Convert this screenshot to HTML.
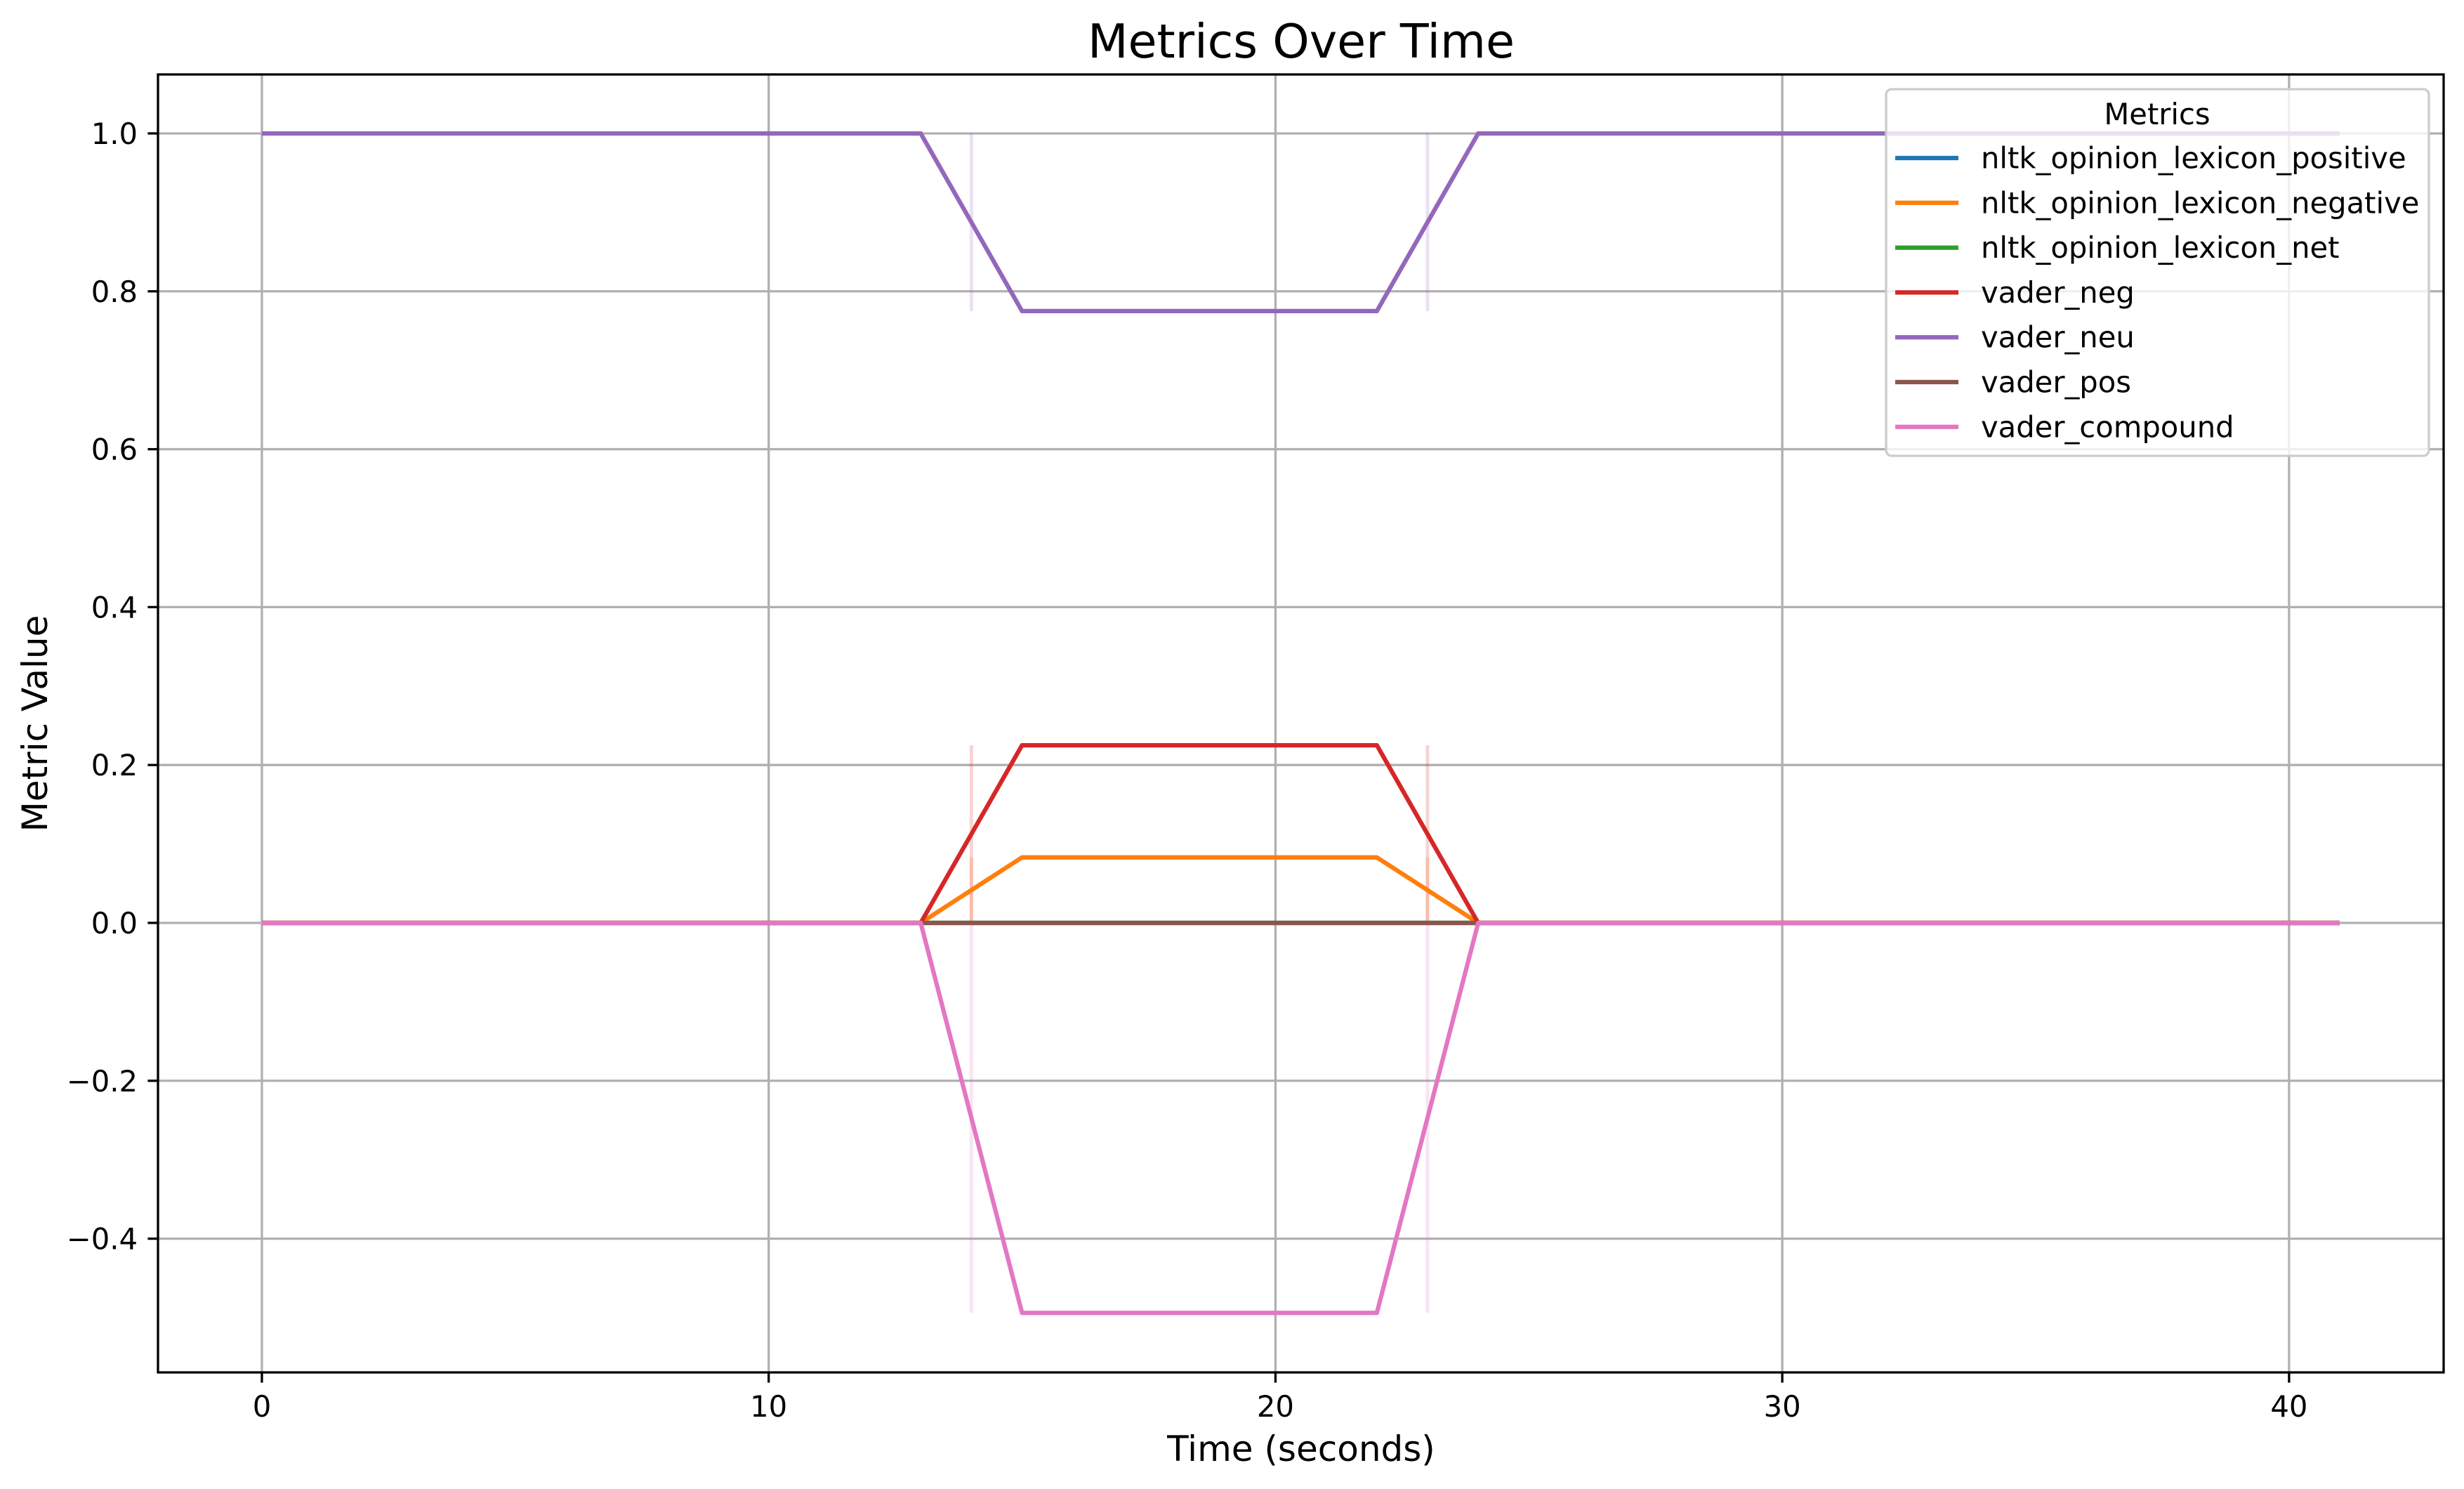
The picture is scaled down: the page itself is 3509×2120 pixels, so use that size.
<!DOCTYPE html>
<html><head><meta charset="utf-8"><style>
html,body{margin:0;padding:0;background:#fff;}
svg{display:block;font-family:"DejaVu Sans","Liberation Sans",sans-serif;}
</style></head><body>
<svg id="chart" width="3509" height="2120" viewBox="0 0 3509 2120" xmlns="http://www.w3.org/2000/svg">
<rect x="0" y="0" width="3509" height="2120" fill="#fff"/>
<g id="grid"></g>
<g id="bands"></g>
<g id="series"></g>
<g id="axes"></g>
<text x="1853" y="82" font-size="66.7" text-anchor="middle">Metrics Over Time</text>
<text x="1853" y="2080" font-size="50" text-anchor="middle">Time (seconds)</text>
<text x="0" y="0" font-size="50" text-anchor="middle" transform="translate(67,1030) rotate(-90)">Metric Value</text>
<g id="legend"></g>
</svg>
<script>
const times = [0, 13, 15, 22, 24, 41];
const seriesNames = ["nltk_opinion_lexicon_positive","nltk_opinion_lexicon_negative","nltk_opinion_lexicon_net","vader_neg","vader_neu","vader_pos","vader_compound"];
const seriesColors = ["#1f77b4","#ff7f0e","#2ca02c","#d62728","#9467bd","#8c564b","#e377c2"];
const posValues = [0, 0, 0, 0, 0, 0];
const negValues = [0, 0, 0.083, 0.083, 0, 0];
const netValues = [0, 0, 0, 0, 0, 0];
const vaderNegValues = [0, 0, 0.225, 0.225, 0, 0];
const vaderNeuValues = [1, 1, 0.775, 0.775, 1, 1];
const vaderPosValues = [0, 0, 0, 0, 0, 0];
const vaderCompoundValues = [0, 0, -0.494, -0.494, 0, 0];
const bandTimes = [14, 23];
const xTicks = [0, 10, 20, 30, 40];
const yTicks = [-0.4, -0.2, 0.0, 0.2, 0.4, 0.6, 0.8, 1.0];
const yTickLabels = ["\u22120.4","\u22120.2","0.0","0.2","0.4","0.6","0.8","1.0"];

const allSeries = [posValues, negValues, netValues, vaderNegValues, vaderNeuValues, vaderPosValues, vaderCompoundValues];
const L = 225, R = 3480, T = 106, B = 1954;
const xMin = -2.05, xMax = 43.05, yMin = -0.5694, yMax = 1.0747;
function xs(v){ return L + (v - xMin) / (xMax - xMin) * (R - L); }
function ys(v){ return B - (v - yMin) / (yMax - yMin) * (B - T); }
const NS = "http://www.w3.org/2000/svg";
function mk(tag, attrs, parent){ const e = document.createElementNS(NS, tag); for (const k in attrs) e.setAttribute(k, attrs[k]); parent.appendChild(e); return e; }

const grid = document.getElementById('grid');
const axes = document.getElementById('axes');
xTicks.forEach(t => {
  const g = mk('line', {x1: xs(t), x2: xs(t), y1: T, y2: B, stroke: '#b0b0b0', 'stroke-width': 3.3}, grid);
  
  
  const tk = mk('line', {x1: xs(t), x2: xs(t), y1: B, y2: B + 14.6, stroke: '#000', 'stroke-width': 3.3}, axes);
  
  
  const lb = mk('text', {x: xs(t), y: 2017, 'font-size': 41.7, 'text-anchor': 'middle'}, axes);
  lb.textContent = String(t);
  
  
});
yTicks.forEach((t, i) => {
  const g = mk('line', {x1: L, x2: R, y1: ys(t), y2: ys(t), stroke: '#b0b0b0', 'stroke-width': 3.3}, grid);
  
  
  const tk = mk('line', {x1: L - 14.6, x2: L, y1: ys(t), y2: ys(t), stroke: '#000', 'stroke-width': 3.3}, axes);
  
  
  const lb = mk('text', {x: 196, y: ys(t) + 15, 'font-size': 41.7, 'text-anchor': 'end'}, axes);
  lb.textContent = yTickLabels[i];
  
  
});
const frame = mk('rect', {x: L, y: T, width: R - L, height: B - T, fill: 'none', stroke: '#000', 'stroke-width': 3.3}, axes);



const bands = document.getElementById('bands');
allSeries.forEach((vals, si) => {
  bandTimes.forEach(bt => {
    const i = times.findIndex(t => t > bt);
    const lo = Math.min(vals[i-1], vals[i]), hi = Math.max(vals[i-1], vals[i]);
    if (hi - lo < 1e-9) return;
    const b = mk('line', {x1: xs(bt), x2: xs(bt), y1: ys(lo), y2: ys(hi), stroke: seriesColors[si], 'stroke-width': 5, 'stroke-opacity': 0.2}, bands);
    
    
  });
});

const sg = document.getElementById('series');
allSeries.forEach((vals, si) => {
  const pts = times.map((t, i) => xs(t).toFixed(1) + ',' + ys(vals[i]).toFixed(1)).join(' ');
  const pl = mk('polyline', {points: pts, fill: 'none', stroke: seriesColors[si], 'stroke-width': 6.25, 'stroke-linejoin': 'round'}, sg);
  
  
});

const lg = document.getElementById('legend');
const box = mk('rect', {x: 2686, y: 127, width: 773, height: 522, rx: 8, fill: 'rgba(255,255,255,0.8)', stroke: '#cccccc', 'stroke-width': 3.3}, lg);


const lt = mk('text', {x: 3072, y: 177, 'font-size': 41.7, 'text-anchor': 'middle'}, lg);
lt.textContent = 'Metrics';


seriesNames.forEach((n, i) => {
  const y = 225 + i * 63.8;
  const h = mk('line', {x1: 2699, x2: 2789, y1: y, y2: y, stroke: seriesColors[i], 'stroke-width': 6.25}, lg);
  
  
  const t = mk('text', {x: 2821, y: y + 14.5, 'font-size': 41.7}, lg);
  t.textContent = n;
  
  
});
</script>
</body></html>
